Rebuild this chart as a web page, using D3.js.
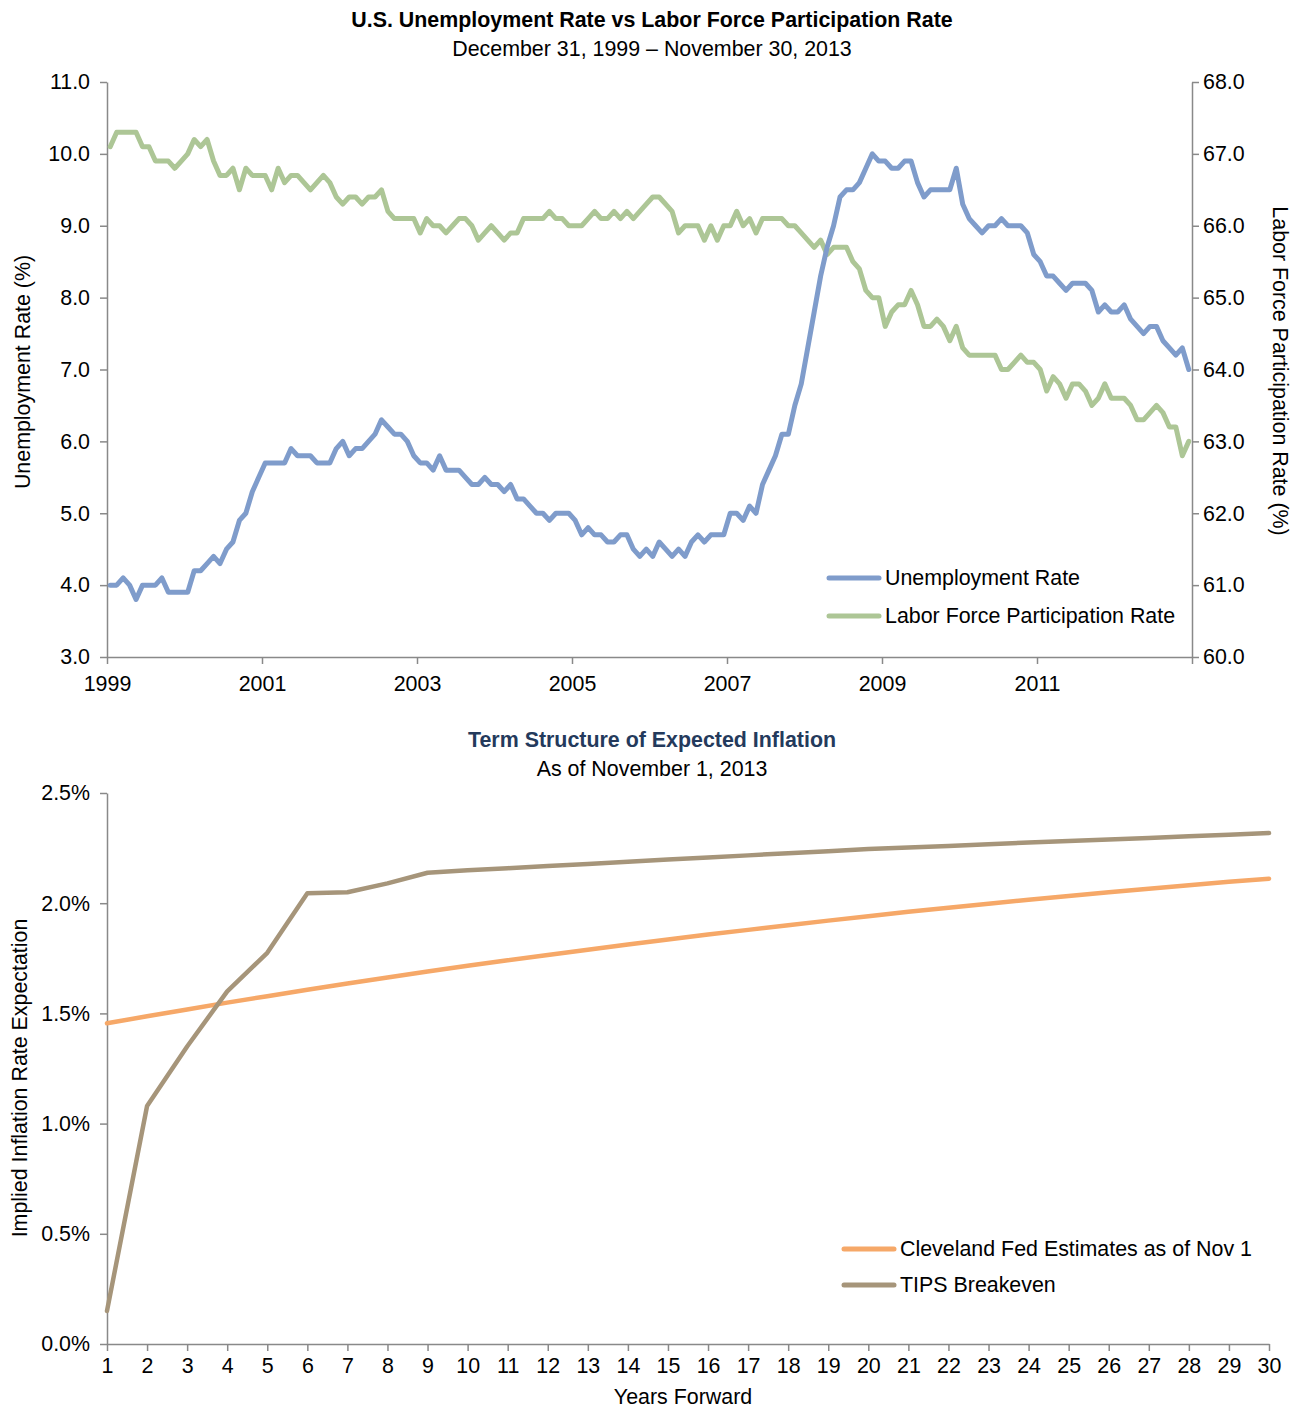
<!doctype html>
<html lang="en">
<head>
  <meta charset="UTF-8">
  <script src="https://cdn.jsdelivr.net/npm/d3@7/dist/d3.min.js"></script>
  <title>Unemployment vs Participation / Expected Inflation</title>
  <style>
    body{ margin:0; background:#fff; }
    svg text{ font-family:"Liberation Sans", Arial, sans-serif; fill:#000; }
    .axis path, .axis line{ stroke:#898989; stroke-width:1.5; }
    .axis text{ font-size:21.4px; }
  </style>
</head>
<body>
<div class="chart"></div>
<script>
  // monthly values, Dec 1999 .. Nov 2013
  const unemploymentRate = [
    4.0,
    4.0, 4.1, 4.0, 3.8, 4.0, 4.0, 4.0, 4.1, 3.9, 3.9, 3.9, 3.9,
    4.2, 4.2, 4.3, 4.4, 4.3, 4.5, 4.6, 4.9, 5.0, 5.3, 5.5, 5.7,
    5.7, 5.7, 5.7, 5.9, 5.8, 5.8, 5.8, 5.7, 5.7, 5.7, 5.9, 6.0,
    5.8, 5.9, 5.9, 6.0, 6.1, 6.3, 6.2, 6.1, 6.1, 6.0, 5.8, 5.7,
    5.7, 5.6, 5.8, 5.6, 5.6, 5.6, 5.5, 5.4, 5.4, 5.5, 5.4, 5.4,
    5.3, 5.4, 5.2, 5.2, 5.1, 5.0, 5.0, 4.9, 5.0, 5.0, 5.0, 4.9,
    4.7, 4.8, 4.7, 4.7, 4.6, 4.6, 4.7, 4.7, 4.5, 4.4, 4.5, 4.4,
    4.6, 4.5, 4.4, 4.5, 4.4, 4.6, 4.7, 4.6, 4.7, 4.7, 4.7, 5.0,
    5.0, 4.9, 5.1, 5.0, 5.4, 5.6, 5.8, 6.1, 6.1, 6.5, 6.8, 7.3,
    7.8, 8.3, 8.7, 9.0, 9.4, 9.5, 9.5, 9.6, 9.8, 10.0, 9.9, 9.9,
    9.8, 9.8, 9.9, 9.9, 9.6, 9.4, 9.5, 9.5, 9.5, 9.5, 9.8, 9.3,
    9.1, 9.0, 8.9, 9.0, 9.0, 9.1, 9.0, 9.0, 9.0, 8.9, 8.6, 8.5,
    8.3, 8.3, 8.2, 8.1, 8.2, 8.2, 8.2, 8.1, 7.8, 7.9, 7.8, 7.8,
    7.9, 7.7, 7.6, 7.5, 7.6, 7.6, 7.4, 7.3, 7.2, 7.3, 7.0
  ];
  const participationRate = [
    67.1,
    67.3, 67.3, 67.3, 67.3, 67.1, 67.1, 66.9, 66.9, 66.9, 66.8, 66.9, 67.0,
    67.2, 67.1, 67.2, 66.9, 66.7, 66.7, 66.8, 66.5, 66.8, 66.7, 66.7, 66.7,
    66.5, 66.8, 66.6, 66.7, 66.7, 66.6, 66.5, 66.6, 66.7, 66.6, 66.4, 66.3,
    66.4, 66.4, 66.3, 66.4, 66.4, 66.5, 66.2, 66.1, 66.1, 66.1, 66.1, 65.9,
    66.1, 66.0, 66.0, 65.9, 66.0, 66.1, 66.1, 66.0, 65.8, 65.9, 66.0, 65.9,
    65.8, 65.9, 65.9, 66.1, 66.1, 66.1, 66.1, 66.2, 66.1, 66.1, 66.0, 66.0,
    66.0, 66.1, 66.2, 66.1, 66.1, 66.2, 66.1, 66.2, 66.1, 66.2, 66.3, 66.4,
    66.4, 66.3, 66.2, 65.9, 66.0, 66.0, 66.0, 65.8, 66.0, 65.8, 66.0, 66.0,
    66.2, 66.0, 66.1, 65.9, 66.1, 66.1, 66.1, 66.1, 66.0, 66.0, 65.9, 65.8,
    65.7, 65.8, 65.6, 65.7, 65.7, 65.7, 65.5, 65.4, 65.1, 65.0, 65.0, 64.6,
    64.8, 64.9, 64.9, 65.1, 64.9, 64.6, 64.6, 64.7, 64.6, 64.4, 64.6, 64.3,
    64.2, 64.2, 64.2, 64.2, 64.2, 64.0, 64.0, 64.1, 64.2, 64.1, 64.1, 64.0,
    63.7, 63.9, 63.8, 63.6, 63.8, 63.8, 63.7, 63.5, 63.6, 63.8, 63.6, 63.6,
    63.6, 63.5, 63.3, 63.3, 63.4, 63.5, 63.4, 63.2, 63.2, 62.8, 63.0
  ];
  const yearLabels = ['1999', '2001', '2003', '2005', '2007', '2009', '2011'];
  const leftTicks = [3, 4, 5, 6, 7, 8, 9, 10, 11];
  const rightTicks = [60, 61, 62, 63, 64, 65, 66, 67, 68];

  const yearsForward = [1, 2, 3, 4, 5, 6, 7, 8, 9, 10, 11, 12, 13, 14, 15,
                        16, 17, 18, 19, 20, 21, 22, 23, 24, 25, 26, 27, 28, 29, 30];
  const clevelandFed = [1.455, 1.487, 1.518, 1.549, 1.578, 1.607, 1.636, 1.663, 1.690, 1.716,
                        1.741, 1.765, 1.789, 1.813, 1.835, 1.858, 1.879, 1.900, 1.921, 1.941,
                        1.961, 1.979, 1.998, 2.016, 2.033, 2.050, 2.066, 2.081, 2.097, 2.111];
  const tipsBreakeven = [0.15, 1.08, 1.35, 1.60, 1.775, 2.045, 2.05, 2.09, 2.138, 2.150,
                         2.159, 2.169, 2.178, 2.188, 2.198, 2.207, 2.217, 2.227, 2.236, 2.246,
                         2.253, 2.260, 2.268, 2.275, 2.282, 2.289, 2.296, 2.304, 2.311, 2.318];
  const pctTicks = [0, 0.5, 1, 1.5, 2, 2.5];

  const colors = { ur:'#7f9ccb', lfp:'#adc696', cleve:'#f6a868', tips:'#a6957a' };
  const fs = '21.4px';

  const svg = d3.select('.chart').append('svg')
    .attr('width', 1306).attr('height', 1408);

  // ---------- top chart ----------
  const box1 = { l:107, r:1192, t:82, b:657 };
  const xTop = d3.scaleLinear().domain([-0.5, 167.5]).range([box1.l, box1.r]);
  const yUr = d3.scaleLinear().domain([3, 11]).range([box1.b, box1.t]);
  const yLfp = d3.scaleLinear().domain([60, 68]).range([box1.b, box1.t]);

  svg.append('g').attr('class', 'axis')
    .attr('transform', `translate(${box1.l},0)`)
    .call(d3.axisLeft(yUr).tickValues(leftTicks).tickFormat(d3.format('.1f'))
      .tickSize(7).tickSizeOuter(0).tickPadding(10));
  svg.append('g').attr('class', 'axis')
    .attr('transform', `translate(${box1.r},0)`)
    .call(d3.axisRight(yLfp).tickValues(rightTicks).tickFormat(d3.format('.1f'))
      .tickSize(7).tickSizeOuter(0).tickPadding(4));
  svg.append('g').attr('class', 'axis')
    .attr('transform', `translate(0,${box1.b})`)
    .call(d3.axisBottom(xTop).tickValues(yearLabels.map((d, i) => i * 24 - 0.5).concat([167.5]))
      .tickFormat((d, i) => yearLabels[i] || '')
      .tickSize(7).tickSizeOuter(0).tickPadding(12));

  const lineUr = d3.line().x((d, i) => xTop(i)).y(d => yUr(d));
  const lineLfp = d3.line().x((d, i) => xTop(i)).y(d => yLfp(d));
  svg.append('path').datum(participationRate).attr('d', lineLfp)
    .attr('fill', 'none').attr('stroke', colors.lfp).attr('stroke-width', 5)
    .attr('stroke-linejoin', 'round').attr('stroke-linecap', 'round');
  svg.append('path').datum(unemploymentRate).attr('d', lineUr)
    .attr('fill', 'none').attr('stroke', colors.ur).attr('stroke-width', 5)
    .attr('stroke-linejoin', 'round').attr('stroke-linecap', 'round');

  svg.append('text').attr('x', 652).attr('y', 27).attr('text-anchor', 'middle')
    .style('font-size', fs).style('font-weight', 'bold')
    .text('U.S. Unemployment Rate vs Labor Force Participation Rate');
  svg.append('text').attr('x', 652).attr('y', 56).attr('text-anchor', 'middle')
    .style('font-size', fs).text('December 31, 1999 \u2013 November 30, 2013');
  svg.append('text').attr('transform', 'translate(22,372) rotate(-90)')
    .attr('text-anchor', 'middle').attr('dy', '0.35em').style('font-size', fs)
    .text('Unemployment Rate (%)');
  svg.append('text').attr('transform', 'translate(1280,371) rotate(90)')
    .attr('text-anchor', 'middle').attr('dy', '0.35em').style('font-size', fs)
    .text('Labor Force Participation Rate (%)');

  const legTop = [
    { name:'Unemployment Rate', color:colors.ur, y:578 },
    { name:'Labor Force Participation Rate', color:colors.lfp, y:616 }
  ];
  const lt = svg.append('g').selectAll('g').data(legTop).enter().append('g');
  lt.append('line').attr('x1', 829).attr('x2', 879).attr('y1', d => d.y).attr('y2', d => d.y)
    .attr('stroke', d => d.color).attr('stroke-width', 5).attr('stroke-linecap', 'round');
  lt.append('text').attr('x', 885).attr('y', d => d.y).attr('dy', '0.35em')
    .style('font-size', fs).text(d => d.name);

  // ---------- bottom chart ----------
  const box2 = { l:107, r:1269, t:793, b:1344 };
  const xBot = d3.scaleLinear().domain([1, 30]).range([box2.l, box2.r]);
  const yBot = d3.scaleLinear().domain([0, 2.5]).range([box2.b, box2.t]);

  svg.append('g').attr('class', 'axis')
    .attr('transform', `translate(${box2.l},0)`)
    .call(d3.axisLeft(yBot).tickValues(pctTicks).tickFormat(d => d.toFixed(1) + '%')
      .tickSize(7).tickSizeOuter(0).tickPadding(10));
  svg.append('g').attr('class', 'axis')
    .attr('transform', `translate(0,${box2.b})`)
    .call(d3.axisBottom(xBot).tickValues(yearsForward).tickFormat(d3.format('d'))
      .tickSize(7).tickSizeOuter(0).tickPadding(7));

  const lineBot = d3.line().x((d, i) => xBot(yearsForward[i])).y(d => yBot(d));
  svg.append('path').datum(clevelandFed).attr('d', lineBot)
    .attr('fill', 'none').attr('stroke', colors.cleve).attr('stroke-width', 4.5)
    .attr('stroke-linejoin', 'round').attr('stroke-linecap', 'round');
  svg.append('path').datum(tipsBreakeven).attr('d', lineBot)
    .attr('fill', 'none').attr('stroke', colors.tips).attr('stroke-width', 4.5)
    .attr('stroke-linejoin', 'round').attr('stroke-linecap', 'round');

  svg.append('text').attr('x', 652).attr('y', 747).attr('text-anchor', 'middle')
    .style('font-size', fs).style('font-weight', 'bold').style('fill', '#243a5c')
    .text('Term Structure of Expected Inflation');
  svg.append('text').attr('x', 652).attr('y', 776).attr('text-anchor', 'middle')
    .style('font-size', fs).text('As of November 1, 2013');
  svg.append('text').attr('transform', 'translate(19,1078) rotate(-90)')
    .attr('text-anchor', 'middle').attr('dy', '0.35em').style('font-size', fs)
    .text('Implied Inflation Rate Expectation');
  svg.append('text').attr('x', 683).attr('y', 1404).attr('text-anchor', 'middle')
    .style('font-size', fs).text('Years Forward');

  const legBot = [
    { name:'Cleveland Fed Estimates as of Nov 1', color:colors.cleve, y:1249 },
    { name:'TIPS Breakeven', color:colors.tips, y:1285 }
  ];
  const lb = svg.append('g').selectAll('g').data(legBot).enter().append('g');
  lb.append('line').attr('x1', 844).attr('x2', 894).attr('y1', d => d.y).attr('y2', d => d.y)
    .attr('stroke', d => d.color).attr('stroke-width', 5).attr('stroke-linecap', 'round');
  lb.append('text').attr('x', 900).attr('y', d => d.y).attr('dy', '0.35em')
    .style('font-size', fs).text(d => d.name);
</script>
</body>
</html>
